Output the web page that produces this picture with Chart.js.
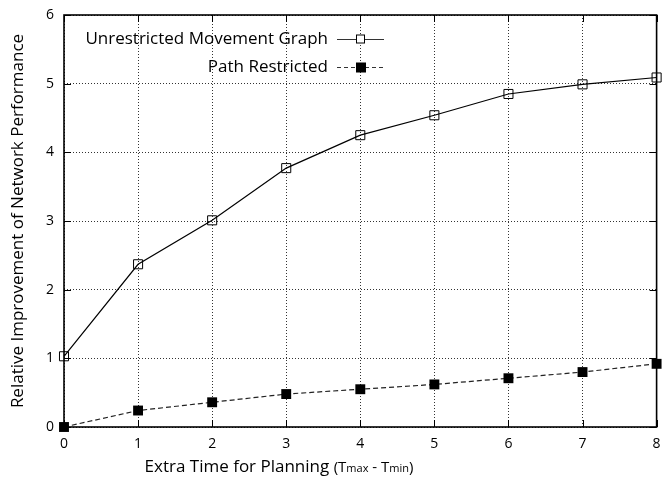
<!DOCTYPE html>
<html>
<head>
<meta charset="utf-8">
<script src="https://cdn.jsdelivr.net/npm/chart.js@4/dist/chart.umd.min.js"></script>
<style>
  html, body { margin: 0; padding: 0; background: #fff; }
  #wrap { width: 664px; height: 479px; position: relative; }
</style>
</head>
<body>
<div id="wrap"><canvas id="chart"></canvas></div>
<script>
/* Relative improvement vs extra planning time (gnuplot-style line chart) */

const X_VALUES      = [0, 1, 2, 3, 4, 5, 6, 7, 8];
const UNRESTRICTED  = [1.03, 2.37, 3.01, 3.77, 4.25, 4.54, 4.85, 4.99, 5.09];
const PATH_RESTRICT = [0.00, 0.24, 0.36, 0.48, 0.55, 0.62, 0.71, 0.80, 0.92];
const SERIES_NAMES  = ["Unrestricted Movement Graph", "Path Restricted"];
const Y_TITLE       = "Relative Improvement of Network Performance";
const X_TITLE_PARTS = [["Extra Time for Planning ", 17], ["(", 15], ["T", 15], ["max", 11], [" - T", 15], ["min", 11], [")", 15]];

const FONT = "'Open Sans', 'Noto Sans', sans-serif";
const INK  = "#000";
const GRID = "#333";

function pts(vals) {
  return X_VALUES.map((x, i) => ({ x: x, y: vals[i] }));
}

/* box, inward ticks, legend, x title */
const gnuplotFrame = {
  id: "gnuplotFrame",
  afterDatasetsDraw(chart) {
    const { ctx, chartArea: a, scales } = chart;
    ctx.save();
    ctx.strokeStyle = INK;
    ctx.lineWidth = 1.6;
    ctx.setLineDash([]);
    ctx.strokeRect(a.left, a.top, a.right - a.left, a.bottom - a.top);

    ctx.lineWidth = 1;
    const tl = 7;
    X_VALUES.forEach(v => {
      const px = Math.round(scales.x.getPixelForValue(v)) + 0.5;
      ctx.beginPath();
      ctx.moveTo(px, a.bottom); ctx.lineTo(px, a.bottom - tl);
      ctx.moveTo(px, a.top); ctx.lineTo(px, a.top + tl);
      ctx.stroke();
    });
    for (let v = 0; v <= 6; v++) {
      const py = Math.round(scales.y.getPixelForValue(v)) + 0.5;
      ctx.beginPath();
      ctx.moveTo(a.left, py); ctx.lineTo(a.left + tl, py);
      ctx.moveTo(a.right, py); ctx.lineTo(a.right - tl, py);
      ctx.stroke();
    }

    /* legend */
    ctx.font = "17px " + FONT;
    ctx.fillStyle = INK;
    ctx.textAlign = "right";
    ctx.textBaseline = "middle";
    const rows = [{ y: 39, dash: [], fill: false }, { y: 67, dash: [4, 3], fill: true }];
    rows.forEach((r, i) => {
      ctx.fillText(SERIES_NAMES[i], 328, r.y);
      ctx.beginPath();
      ctx.setLineDash(r.dash);
      ctx.lineWidth = 1;
      ctx.strokeStyle = "#333";
      ctx.moveTo(337, r.y + 0.5); ctx.lineTo(384, r.y + 0.5);
      ctx.stroke();
      ctx.setLineDash([]);
      if (r.fill) {
        ctx.fillRect(356, r.y - 4.5, 10, 10);
      } else {
        ctx.fillStyle = "#fff";
        ctx.fillRect(356.5, r.y - 4, 8, 8);
        ctx.fillStyle = INK;
        ctx.strokeStyle = INK;
        ctx.strokeRect(356.5, r.y - 4, 8, 8);
      }
    });

    /* x axis title with small subscripts */
    let total = 0;
    X_TITLE_PARTS.forEach(p => { ctx.font = p[1] + "px " + FONT; total += ctx.measureText(p[0]).width; });
    let x = 279 - total / 2;
    ctx.textAlign = "left";
    ctx.textBaseline = "alphabetic";
    X_TITLE_PARTS.forEach(p => {
      ctx.font = p[1] + "px " + FONT;
      ctx.fillText(p[0], x, 472);
      x += ctx.measureText(p[0]).width;
    });
    ctx.restore();
  }
};

new Chart(document.getElementById("chart"), {
  type: "line",
  data: {
    datasets: [
      {
        label: SERIES_NAMES[0],
        data: pts(UNRESTRICTED),
        borderColor: INK,
        borderWidth: 1.2,
        backgroundColor: "#fff",
        pointStyle: "rect",
        pointRadius: 6.4,
        pointBorderWidth: 1,
        pointBorderColor: INK,
        pointBackgroundColor: "rgba(255,255,255,0)",
        tension: 0,
        clip: false
      },
      {
        label: SERIES_NAMES[1],
        data: pts(PATH_RESTRICT),
        borderColor: "#222",
        borderWidth: 1.2,
        borderDash: [5, 3],
        pointStyle: "rect",
        pointRadius: 7,
        pointBorderWidth: 0,
        pointBackgroundColor: INK,
        tension: 0,
        clip: false
      }
    ]
  },
  options: {
    responsive: true,
    maintainAspectRatio: false,
    animation: false,
    layout: { padding: { top: 15, right: 5, left: 8, bottom: 0 } },
    plugins: { legend: { display: false }, tooltip: { enabled: false } },
    scales: {
      x: {
        type: "linear",
        min: 0, max: 8,
        afterFit(s) { s.height = 52; s.paddingLeft = 0; s.paddingRight = 0; },
        border: { display: false, dash: [1, 2] },
        grid: { color: GRID, lineWidth: 1, drawTicks: false },
        ticks: { stepSize: 1, color: INK, padding: 9, font: { family: FONT, size: 14 } }
      },
      y: {
        min: 0, max: 6,
        afterFit(s) { s.width = 56; s.paddingTop = 0; s.paddingBottom = 0; },
        border: { display: false, dash: [1, 2] },
        grid: { color: GRID, lineWidth: 1, drawTicks: false },
        ticks: { stepSize: 1, color: INK, padding: 10, font: { family: FONT, size: 14 } },
        title: { display: true, text: Y_TITLE, color: INK, padding: { top: 0, bottom: 6 }, font: { family: FONT, size: 17 } }
      }
    }
  },
  plugins: [gnuplotFrame]
});
</script>
</body>
</html>
